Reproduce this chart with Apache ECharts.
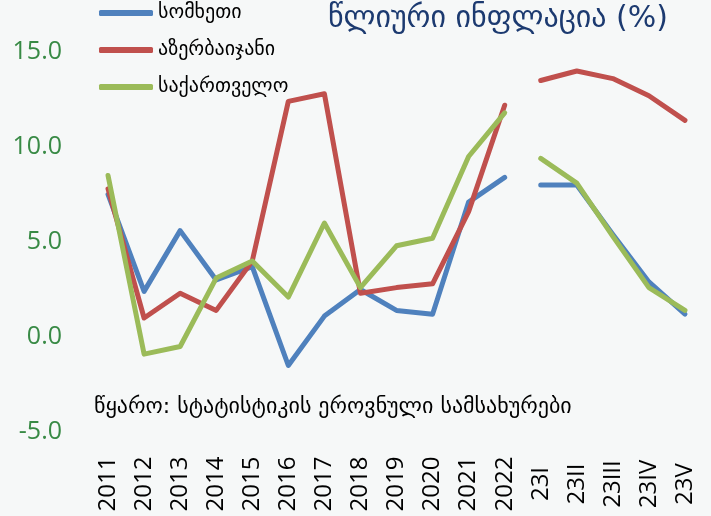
<!DOCTYPE html>
<html><head><meta charset="utf-8">
<script src="https://cdn.jsdelivr.net/npm/echarts@6/dist/echarts.min.js"></script>
<style>html,body{margin:0;padding:0;background:#f6f8f8}#c{width:711px;height:516px}</style>
</head><body><div id="c"></div>
<script>
const categories = ['2011','2012','2013','2014','2015','2016','2017','2018','2019','2020','2021','2022','23I','23II','23III','23IV','23V'];
const seriesNames = ['სომხეთი','აზერბაიჯანი','საქართველო'];
const armeniaAnnual = [7.5, 2.4, 5.6, 3.0, 3.7, -1.5, 1.1, 2.5, 1.4, 1.2, 7.1, 8.4];
const azerbaijanAnnual = [7.8, 1.0, 2.3, 1.4, 4.0, 12.4, 12.8, 2.3, 2.6, 2.8, 6.6, 12.2];
const georgiaAnnual = [8.5, -0.9, -0.5, 3.1, 4.0, 2.1, 6.0, 2.6, 4.8, 5.2, 9.5, 11.8];
const armeniaMonthly = [8.0, 8.0, 5.4, 2.9, 1.2];
const azerbaijanMonthly = [13.5, 14.0, 13.6, 12.7, 11.4];
const georgiaMonthly = [9.4, 8.1, 5.3, 2.6, 1.4];
const yTicks = {min: -5, max: 15, interval: 5};
const titleText = 'წლიური ინფლაცია (%)';
const sourceText = 'წყარო: სტატისტიკის ეროვნული სამსახურები';

const colors = ['#4f81bd', '#c0504d', '#9bbb59'];
const nA = armeniaAnnual.length;
const nM = armeniaMonthly.length;
function annual(arr){ return arr.concat(new Array(nM).fill(null)); }
function monthly(arr){ return new Array(nA).fill(null).concat(arr); }
const fontG = "'DejaVu Sans', sans-serif";
const lineStyle = (c) => ({color: c, width: 5, cap: 'round', join: 'round'});
const mk = (name, data, c) => ({name, type: 'line', data, showSymbol: false, symbol: 'none', lineStyle: lineStyle(c), itemStyle: {color: c}, connectNulls: false, silent: true, animation: false});

const chart = echarts.init(document.getElementById('c'), null, {renderer: 'canvas'});
chart.setOption({
  backgroundColor: '#f6f8f8',
  animation: false,
  color: colors,
  title: {text: titleText, right: 43, top: 4, padding: 0, textStyle: {color: '#1c3a70', fontSize: 30, fontWeight: 'normal', fontFamily: fontG}},
  legend: {
    data: seriesNames, orient: 'vertical', left: 99, top: 3, itemGap: 17, padding: 0,
    icon: 'roundRect', itemWidth: 54, itemHeight: 6,
    textStyle: {fontSize: 20, color: '#000', fontFamily: fontG}
  },
  graphic: [{type: 'text', left: 94, top: 396, style: {text: sourceText, fill: '#000', font: "22px 'DejaVu Sans', sans-serif"}}],
  grid: {left: 90, right: 8, top: 52, bottom: 84},
  xAxis: {
    type: 'category', data: categories, boundaryGap: true,
    axisLine: {show: false}, axisTick: {show: false},
    axisLabel: {rotate: 90, margin: 52, align: 'center', verticalAlign: 'middle', fontSize: 24, color: '#000', fontFamily: "'Open Sans', sans-serif", interval: 0}
  },
  yAxis: {
    type: 'value', min: yTicks.min, max: yTicks.max, interval: yTicks.interval,
    splitLine: {show: false}, axisLine: {show: false}, axisTick: {show: false},
    axisLabel: {formatter: v => v.toFixed(1), fontSize: 25, color: '#388a45', margin: 28, fontFamily: "'Open Sans', sans-serif"}
  },
  series: [
    mk(seriesNames[0], annual(armeniaAnnual), colors[0]),
    mk(seriesNames[1], annual(azerbaijanAnnual), colors[1]),
    mk(seriesNames[2], annual(georgiaAnnual), colors[2]),
    mk(seriesNames[0], monthly(armeniaMonthly), colors[0]),
    mk(seriesNames[1], monthly(azerbaijanMonthly), colors[1]),
    mk(seriesNames[2], monthly(georgiaMonthly), colors[2])
  ]
});
</script></body></html>
